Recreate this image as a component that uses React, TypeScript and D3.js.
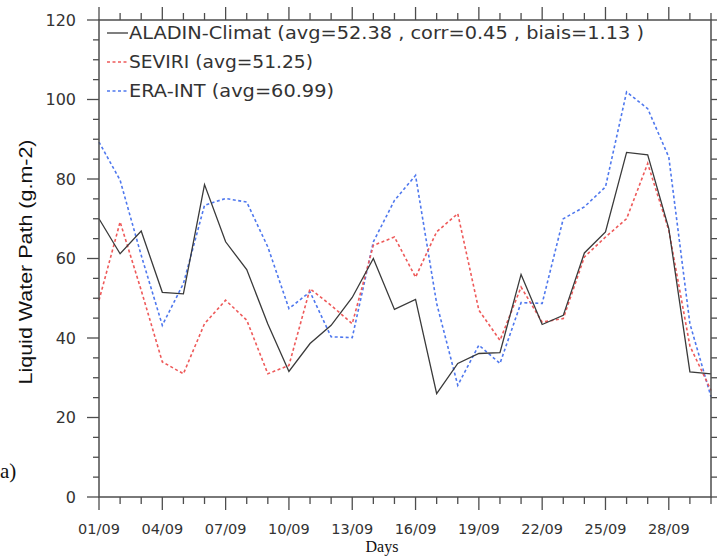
import React, { useEffect, useRef } from "react";
import * as d3 from "d3";

// Day-of-month index for September
const days: number[] = d3.range(1, 31);

// Liquid water path, g.m-2, one value per day
const aladin: number[] = [
  70.0, 61.2, 66.9, 51.5, 51.1, 78.6, 64.2, 57.2, 43.5, 31.6,
  38.6, 43.2, 50.2, 60.0, 47.2, 49.7, 26.0, 33.6, 36.1, 36.3,
  56.0, 43.4, 45.7, 61.4, 66.7, 86.7, 86.1, 67.5, 31.5, 31.0,
];
const seviri: number[] = [
  49.5, 69.2, 52.0, 34.0, 31.0, 43.6, 49.5, 44.5, 31.0, 33.1,
  52.4, 48.2, 43.6, 63.3, 65.4, 55.3, 66.7, 71.3, 47.0, 39.4,
  52.8, 44.0, 44.9, 60.4, 65.4, 70.0, 83.9, 67.1, 38.0, 26.8,
];
const eraInt: number[] = [
  89.3, 79.7, 60.8, 43.2, 53.7, 73.4, 75.1, 74.2, 62.9, 47.4,
  51.6, 40.3, 40.1, 64.2, 74.6, 80.9, 48.7, 28.1, 38.2, 33.6,
  48.9, 48.7, 70.0, 73.0, 78.0, 101.9, 97.7, 85.5, 43.6, 25.2,
];

const legendLabels: string[] = [
  "ALADIN-Climat (avg=52.38 , corr=0.45 , biais=1.13 )",
  "SEVIRI (avg=51.25)",
  "ERA-INT (avg=60.99)",
];
const xTickDays: number[] = [1, 4, 7, 10, 13, 16, 19, 22, 25, 28];
const xTickLabels: string[] = ["01/09", "04/09", "07/09", "10/09", "13/09", "16/09", "19/09", "22/09", "25/09", "28/09"];
const yTicks: number[] = [0, 20, 40, 60, 80, 100, 120];

const W = 717;
const H = 559;
const margin = { left: 99, right: 5, top: 20, bottom: 62 };

export default function App() {
  const ref = useRef<SVGSVGElement | null>(null);

  useEffect(() => {
    const svg = d3.select(ref.current);
    svg.selectAll("*").remove();

    const x = d3.scaleLinear().domain([1, 30]).range([margin.left, W - margin.right - 1]);
    const y = d3.scaleLinear().domain([0, 120]).range([H - margin.bottom, margin.top]);
    const sans = "'DejaVu Sans', sans-serif";
    const arial = "'Liberation Sans', Arial, sans-serif";
    const serif = "'Liberation Serif', 'Times New Roman', serif";
    const axisColor = "#4d4d4d";
    const textColor = "#333";

    svg.append("rect").attr("width", W).attr("height", H).attr("fill", "#fff");

    const series = [
      { values: aladin, color: "#3a3a3a", dash: null as string | null, width: 1.3, legendLen: 0 },
      { values: seviri, color: "#ee5a5a", dash: "3,2.5", width: 1.6, legendLen: 0 },
      { values: eraInt, color: "#4f78ee", dash: "3,2.5", width: 1.6, legendLen: 0 },
    ];
    const legendTextLen = [515, 184, 205];

    const line = d3
      .line<number>()
      .x((_, i) => x(days[i]))
      .y((d) => y(d));

    // dashed series first, solid model line on top
    [series[2], series[1], series[0]].forEach((s) => {
      const p = svg
        .append("path")
        .attr("d", line(s.values))
        .attr("fill", "none")
        .attr("stroke", s.color)
        .attr("stroke-width", s.width)
        .attr("stroke-linejoin", "miter");
      if (s.dash) p.attr("stroke-dasharray", s.dash);
    });

    // frame
    const x0 = x(1), x1 = x(30), y0 = y(0), y1 = y(120);
    svg
      .append("rect")
      .attr("x", x0)
      .attr("y", y1)
      .attr("width", x1 - x0)
      .attr("height", y0 - y1)
      .attr("fill", "none")
      .attr("stroke", axisColor)
      .attr("stroke-width", 1.5);

    const ticks = svg.append("g").attr("stroke", axisColor).attr("stroke-width", 1.3);

    // day ticks, bottom and top, pointing outward
    days.forEach((d) => {
      const major = (d - 1) % 3 === 0;
      const len = major ? 13 : 7;
      ticks.append("line").attr("x1", x(d)).attr("x2", x(d)).attr("y1", y0).attr("y2", y0 + len);
      ticks.append("line").attr("x1", x(d)).attr("x2", x(d)).attr("y1", y1).attr("y2", y1 - len);
    });

    // value ticks every 5, left and right, pointing outward
    d3.range(0, 121, 5).forEach((v) => {
      const major = v % 20 === 0;
      const len = major ? 12 : 6;
      ticks.append("line").attr("x1", x0).attr("x2", x0 - len).attr("y1", y(v)).attr("y2", y(v));
      ticks.append("line").attr("x1", x1).attr("x2", x1 + len).attr("y1", y(v)).attr("y2", y(v));
    });

    // y tick labels
    svg
      .append("g")
      .selectAll("text")
      .data(yTicks)
      .join("text")
      .attr("x", 76)
      .attr("y", (d) => y(d))
      .attr("dy", "0.36em")
      .attr("text-anchor", "end")
      .attr("font-family", sans)
      .attr("font-size", 16)
      .attr("fill", textColor)
      .text((d) => String(d));

    // x tick labels
    svg
      .append("g")
      .selectAll("text")
      .data(xTickDays)
      .join("text")
      .attr("x", (d) => x(d))
      .attr("y", 534)
      .attr("text-anchor", "middle")
      .attr("font-family", sans)
      .attr("font-size", 14.5)
      .attr("fill", textColor)
      .text((_, i) => xTickLabels[i]);

    // axis titles
    svg
      .append("text")
      .attr("transform", "translate(32,262) rotate(-90)")
      .attr("text-anchor", "middle")
      .attr("font-family", arial)
      .attr("font-size", 19)
      .attr("textLength", 245)
      .attr("lengthAdjust", "spacingAndGlyphs")
      .attr("fill", "#111")
      .text("Liquid Water Path (g.m-2)");

    svg
      .append("text")
      .attr("x", 382)
      .attr("y", 552)
      .attr("text-anchor", "middle")
      .attr("font-family", serif)
      .attr("font-size", 16)
      .attr("fill", "#111")
      .text("Days");

    svg
      .append("text")
      .attr("x", 0)
      .attr("y", 478)
      .attr("font-family", serif)
      .attr("font-size", 21)
      .attr("fill", "#111")
      .text("a)");

    // legend
    const legendY = [33, 62, 91];
    series.forEach((s, i) => {
      const ly = legendY[i];
      const l = svg
        .append("line")
        .attr("x1", 107)
        .attr("x2", 128)
        .attr("y1", ly)
        .attr("y2", ly)
        .attr("stroke", s.color)
        .attr("stroke-width", s.width);
      if (s.dash) l.attr("stroke-dasharray", s.dash);
      svg
        .append("text")
        .attr("x", 129)
        .attr("y", ly)
        .attr("dy", "0.36em")
        .attr("font-family", sans)
        .attr("font-size", 18)
        .attr("textLength", legendTextLen[i])
        .attr("lengthAdjust", "spacingAndGlyphs")
        .attr("fill", textColor)
        .text(legendLabels[i]);
    });
  }, []);

  return (
    <svg
      ref={ref}
      width={W}
      height={H}
      style={{ position: "absolute", left: 0, top: 0, display: "block" }}
    />
  );
}
